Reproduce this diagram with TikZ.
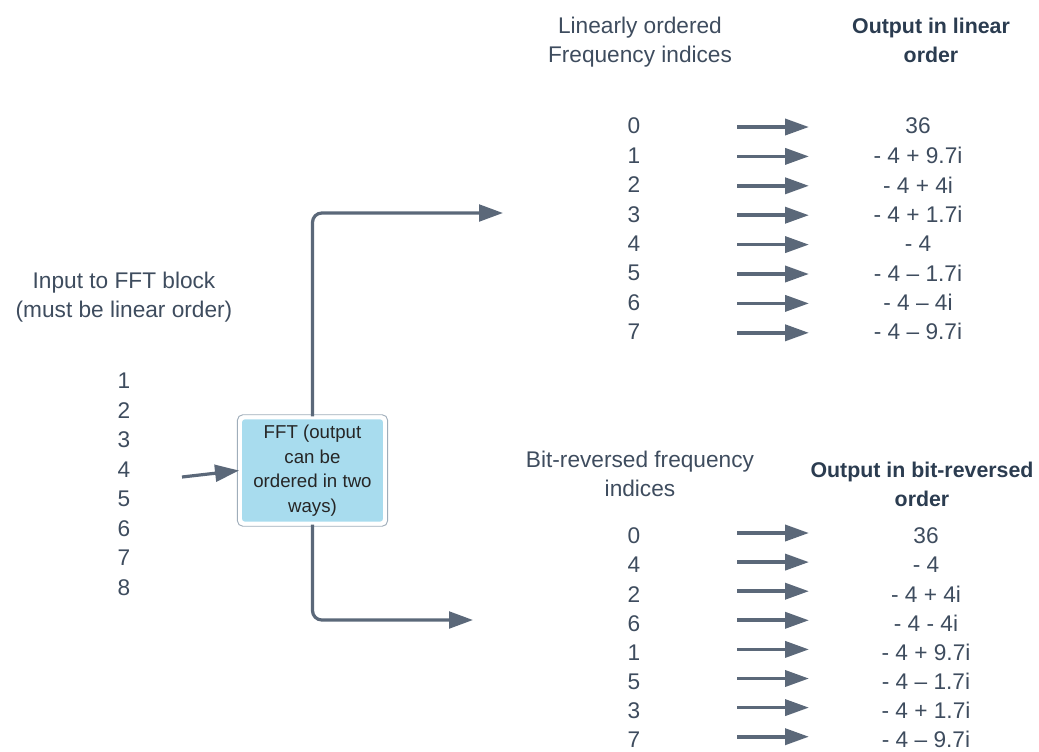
\documentclass[tikz,border=0pt]{standalone}
\usepackage{fontspec}
\setmainfont{Liberation Sans}
\usetikzlibrary{arrows.meta,calc}
\definecolor{ink}{HTML}{3E4C5E}
\definecolor{headink}{HTML}{2B3C50}
\definecolor{arrowgray}{HTML}{5B6879}
\definecolor{boxblue}{HTML}{A8DCEE}
\definecolor{boxedge}{HTML}{9FADBA}
\begin{document}
\begin{tikzpicture}[x=0.75pt,y=-0.75pt,
  lbl/.style={text=ink,font=\fontsize{17}{21.75}\selectfont,align=center,inner sep=0pt},
  headlbl/.style={text=headink,font=\fontsize{16}{21.75}\selectfont\bfseries,align=center,inner sep=0pt},
  num/.style={text=ink,font=\fontsize{17}{20}\selectfont,inner sep=0pt},
  rowarrow/.style={draw=arrowgray,line width=2.8pt,-{Triangle[length=18pt,width=12pt]}},
  connector/.style={draw=arrowgray,line width=2.4pt,rounded corners=7pt,-{Triangle[length=18pt,width=12.5pt]}},
  fftbox/.style={fill=boxblue,draw=white,line width=2.2pt,rounded corners=3pt,
    minimum width=108pt,minimum height=79pt,inner sep=0pt,text=black!85,
    font=\fontsize{14}{18.5}\selectfont,align=center}
]
\useasboundingbox (0,0) rectangle (1039,751);

% column headings
\node[lbl] (linhead) at (640,42) {Linearly ordered\\Frequency indices};
\node[headlbl] (linout) at (931,40) {Output in linear\\order};
\node[lbl] (inhead) at (124,297) {Input to FFT block\\(must be linear order)};
\node[lbl] (bithead) at (640,474) {Bit-reversed frequency\\indices};
\node[headlbl] (bitout) at (922,484) {Output in bit-reversed\\order};

% input samples
\foreach \v [count=\k from 0] in {1,2,3,4,5,6,7,8}
  \node[num] (in\k) at (124,{381+29.5*\k}) {\v};

% FFT block with its outer rim
\node[fftbox] (fft) at (312.5,470.5) {FFT (output\\can be\\ordered in two\\ways)};
\draw[boxedge,line width=0.7pt,rounded corners=4pt]
  ($(fft.south west)+(-1.6,1.6)$) rectangle ($(fft.north east)+(1.6,-1.6)$);

% input arrow into the block
\coordinate (insrc) at (182,477);
\draw[connector] (insrc) -- (fft.west);

% branches to the two orderings
\coordinate (toplin) at (503,213);
\coordinate (topbit) at (473,620);
\draw[connector] (fft.north) |- (toplin);
\draw[connector] (fft.south) |- (topbit);

% linear order rows
\foreach \i/\v [count=\k from 0] in {0/{36},1/{- 4 + 9.7i},2/{- 4 + 4i},3/{- 4 + 1.7i},4/{- 4},5/{- 4 – 1.7i},6/{- 4 – 4i},7/{- 4 – 9.7i}}{
  \node[num] (lidx\k) at (634,{126+29.4*\k}) {\i};
  \node[num] (lval\k) at (918,{126+29.4*\k}) {\v};
  \coordinate (la\k) at (737,{127+29.4*\k});
  \coordinate (lb\k) at (809,{127+29.4*\k});
  \draw[rowarrow] (la\k) -- (lb\k);
}

% bit-reversed order rows
\foreach \i/\v [count=\k from 0] in {0/{36},4/{- 4},2/{- 4 + 4i},6/{- 4 - 4i},1/{- 4 + 9.7i},5/{- 4 – 1.7i},3/{- 4 + 1.7i},7/{- 4 – 9.7i}}{
  \node[num] (bidx\k) at (634,{536+29.1*\k}) {\i};
  \node[num] (bval\k) at (926,{536+29.1*\k}) {\v};
  \coordinate (ba\k) at (737,{533+29.1*\k});
  \coordinate (bb\k) at (809,{533+29.1*\k});
  \draw[rowarrow] (ba\k) -- (bb\k);
}
\end{tikzpicture}
\end{document}
